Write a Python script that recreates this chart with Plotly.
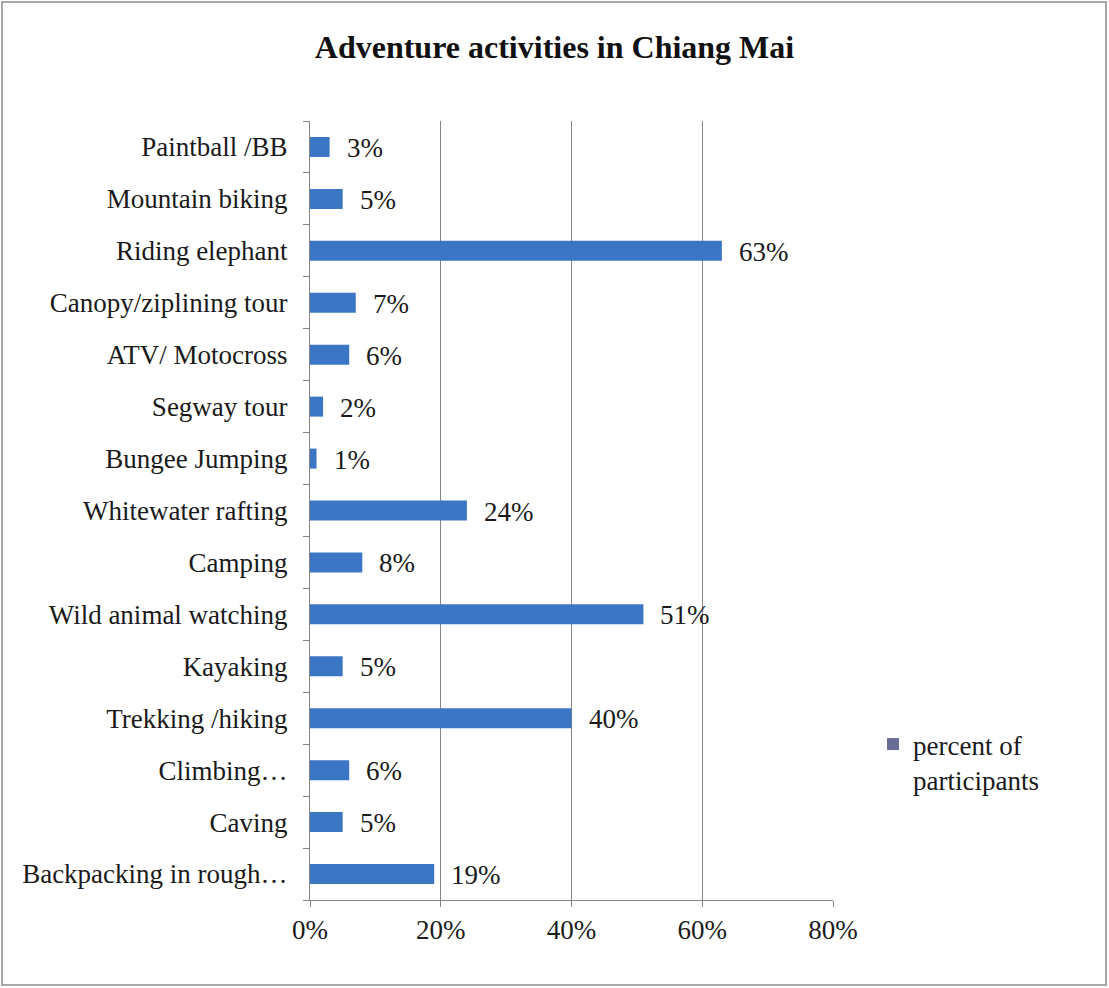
import plotly.graph_objects as go

# Survey results: share of participants per adventure activity (bottom to top)
activities = [
    "Backpacking in rough…",
    "Caving",
    "Climbing…",
    "Trekking /hiking",
    "Kayaking",
    "Wild animal watching",
    "Camping",
    "Whitewater rafting",
    "Bungee Jumping",
    "Segway tour",
    "ATV/ Motocross",
    "Canopy/ziplining tour",
    "Riding elephant",
    "Mountain biking",
    "Paintball /BB",
]
percent = [19, 5, 6, 40, 5, 51, 8, 24, 1, 2, 6, 7, 63, 5, 3]

x_ticks = [0, 20, 40, 60, 80]
x_tick_labels = ["0%", "20%", "40%", "60%", "80%"]

FONT = "Liberation Serif, Times New Roman, serif"
BAR_COLOR = "#3b76c4"
LEGEND_COLOR = "#6a6d98"
TEXT_COLOR = "#1a1a1a"
LINE_COLOR = "#858585"

W, H = 1109, 988
ML, MR, MT, MB = 310, 276, 121, 88
plot_w = W - ML - MR
plot_h = H - MT - MB

fig = go.Figure()

fig.add_trace(go.Bar(
    x=percent,
    y=activities,
    orientation="h",
    marker=dict(color=BAR_COLOR, line=dict(width=0)),
    showlegend=False,
    hoverinfo="x+y",
))

# legend entry with its own square swatch
fig.add_trace(go.Scatter(
    x=[None], y=[None],
    mode="markers",
    marker=dict(symbol="square", size=12, color=LEGEND_COLOR),
    name="percent of<br>participants",
    showlegend=True,
))

# value labels to the right of each bar
for act, val in zip(activities, percent):
    fig.add_annotation(
        x=val, y=act, xref="x", yref="y",
        text=f"{val}%",
        showarrow=False,
        xanchor="left", yanchor="middle",
        xshift=15, yshift=-1,
        font=dict(family=FONT, size=27, color=TEXT_COLOR),
    )

# outer chart border
fig.add_shape(
    type="rect", xref="paper", yref="paper",
    x0=(2 - ML) / plot_w, x1=(W - 3 - ML) / plot_w,
    y0=-(H - 3 - (H - MB)) / plot_h,
    y1=1 + (MT - 2) / plot_h,
    line=dict(color="#8c8c8c", width=1.5),
    fillcolor="rgba(0,0,0,0)",
    layer="below",
)

fig.update_layout(
    width=W, height=H,
    margin=dict(l=ML, r=MR, t=MT, b=MB, autoexpand=False),
    paper_bgcolor="white",
    plot_bgcolor="white",
    bargap=0.615,
    title=dict(
        text="<b>Adventure activities in Chiang Mai</b>",
        x=0.5, xref="container", xanchor="center",
        y=1 - 47 / H, yref="container", yanchor="middle",
        font=dict(family=FONT, size=32, color="#111111"),
    ),
    font=dict(family=FONT, size=27, color=TEXT_COLOR),
    xaxis=dict(
        range=[0, 80],
        tickvals=x_ticks,
        ticktext=x_tick_labels,
        showgrid=True,
        gridcolor=LINE_COLOR,
        gridwidth=1,
        zeroline=False,
        showline=True,
        linecolor=LINE_COLOR,
        linewidth=1,
        ticks="outside",
        ticklen=6,
        tickcolor=LINE_COLOR,
        tickfont=dict(family=FONT, size=27, color=TEXT_COLOR),
        fixedrange=True,
    ),
    yaxis=dict(
        categoryorder="array",
        categoryarray=activities,
        showline=True,
        linecolor=LINE_COLOR,
        linewidth=1,
        ticks="outside",
        tickson="boundaries",
        ticklen=6,
        tickcolor=LINE_COLOR,
        showgrid=False,
        tickfont=dict(family=FONT, size=27, color=TEXT_COLOR),
        ticklabelstandoff=16,
        fixedrange=True,
    ),
    legend=dict(
        x=(873 - ML) / plot_w, xanchor="left",
        y=(H - MB - 720) / plot_h, yanchor="top",
        xref="paper", yref="paper",
        font=dict(family=FONT, size=27, color=TEXT_COLOR),
        bgcolor="rgba(0,0,0,0)",
        valign="top",
        itemwidth=30,
        tracegroupgap=0,
    ),
)

fig.write_html("out.html")
